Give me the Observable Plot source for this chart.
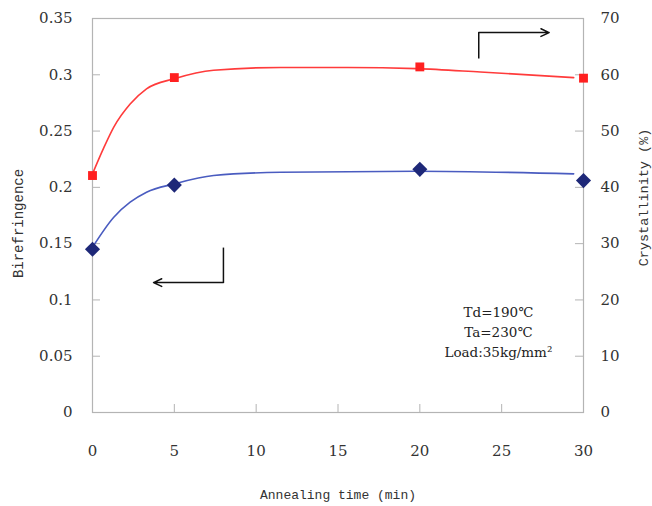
<!DOCTYPE html>
<html>
<head>
<meta charset="utf-8">
<script src="https://cdn.jsdelivr.net/npm/d3@7"></script>
<script src="https://cdn.jsdelivr.net/npm/@observablehq/plot@0.6"></script>
<style>
  html, body { margin: 0; padding: 0; background: #fff; }
</style>
</head>
<body>
<div id="chart"></div>
<script>
// Measured points
const time = [0, 5, 20, 30];
const birefringence = [0.145, 0.202, 0.216, 0.206];
const crystallinity = [42.1, 59.5, 61.4, 59.4];

// Fitted curves
const crystFitTime = [0, 0.7, 1.3, 2.3, 3.3, 5, 7.4, 11.5, 15.6, 19.8, 23.7, 29.4];
const crystFit = [42.4, 47.1, 50.7, 54.8, 57.5, 59.3, 60.8, 61.3, 61.3, 61.1, 60.5, 59.5];
const biFitTime = [0, 1.3, 2.3, 3.3, 5, 7.4, 11.5, 19.8, 29.4];
const biFit = [0.1468, 0.1735, 0.1868, 0.1957, 0.2031, 0.2105, 0.2134, 0.2143, 0.2120];

// Ticks
const xTicks = [0, 5, 10, 15, 20, 25, 30];
const biTicks = [0, 0.05, 0.1, 0.15, 0.2, 0.25, 0.3, 0.35];
const crystTicks = [0, 10, 20, 30, 40, 50, 60, 70];

// Annotations
const noteText = ["Td=190℃", "Ta=230℃", "Load:35kg/mm²"];
const noteX = 24.8;
const noteY = 0.0728;
const rightArrow = {x1: 23.6, x2: 27.9, yLow: 0.3144, y: 0.3375};
const leftArrow = {x1: 8.0, x2: 3.73, yHigh: 0.1465, y: 0.1154};

const k = 0.35 / 70; // crystallinity -> birefringence axis
const pts = time.map((t, i) => ({t, b: birefringence[i], c: crystallinity[i] * k}));
const cFit = crystFitTime.map((t, i) => ({t, v: crystFit[i] * k}));
const bFit = biFitTime.map((t, i) => ({t, v: biFit[i]}));

const gray = "#b4b4b4";
const labelFont = "Liberation Mono";

const chart = Plot.plot({
  width: 652,
  height: 506,
  marginLeft: 92,
  marginRight: 69,
  marginTop: 18,
  marginBottom: 94,
  style: {fontFamily: "DejaVu Serif", fontSize: "15px", color: "#333", background: "#fff"},
  x: {domain: [0, 30]},
  y: {domain: [0, 0.35]},
  marks: [
    Plot.frame({stroke: gray, strokeWidth: 1.2}),
    // inward ticks
    Plot.ruleY(biTicks, {y: d => d, x1: 0, x2: 0.49, stroke: gray}),
    Plot.ruleY(crystTicks, {y: d => d * k, x1: 29.51, x2: 30, stroke: gray}),
    Plot.ruleX(xTicks, {x: d => d, y1: 0, y2: 0.0071, stroke: gray}),
    Plot.axisY(biTicks, {anchor: "left", tickSize: 0, tickPadding: 20, label: null,
      tickFormat: d => String(+d.toFixed(2))}),
    Plot.axisY(crystTicks.map(c => c * k), {anchor: "right", tickSize: 0, tickPadding: 17, label: null,
      tickFormat: d => String(Math.round(d / k))}),
    Plot.axisX(xTicks, {anchor: "bottom", tickSize: 0, tickPadding: 33, label: null}),
    // axis titles
    Plot.text(["Birefringence"], {frameAnchor: "left", textAnchor: "middle", dx: -74, dy: 8, rotate: -90,
      fontFamily: labelFont, fontSize: 14, fill: "#333", letterSpacing: "1.2px"}),
    Plot.text(["Crystallinity (%)"], {frameAnchor: "right", textAnchor: "middle", dx: 60, dy: -18, rotate: -90,
      fontFamily: labelFont, fontSize: 13.5, fill: "#333"}),
    Plot.text(["Annealing time (min)"], {frameAnchor: "bottom", dy: 86, fontFamily: labelFont,
      fontSize: 13, fill: "#333"}),
    // curves
    Plot.line(cFit, {x: "t", y: "v", curve: "monotone-x", stroke: "#ff3b3b", strokeWidth: 1.6}),
    Plot.line(bFit, {x: "t", y: "v", curve: "monotone-x", stroke: "#4a5cc0", strokeWidth: 1.6}),
    // points
    Plot.dot(pts, {x: "t", y: "c", symbol: "square", r: 5, fill: "#ff2020", stroke: "none"}),
    Plot.dot(pts, {x: "t", y: "b", symbol: "diamond2", r: 6.8, fill: "#1e2878", stroke: "none"}),
    // arrows
    Plot.link([rightArrow], {x1: "x1", x2: "x1", y1: "yLow", y2: "y", stroke: "#111", strokeWidth: 1.5}),
    Plot.arrow([rightArrow], {x1: "x1", x2: "x2", y1: "y", y2: "y", stroke: "#111", strokeWidth: 1.5, headLength: 9, headAngle: 50}),
    Plot.link([leftArrow], {x1: "x1", x2: "x1", y1: "yHigh", y2: "y", stroke: "#111", strokeWidth: 1.5}),
    Plot.arrow([leftArrow], {x1: "x1", x2: "x2", y1: "y", y2: "y", stroke: "#111", strokeWidth: 1.5, headLength: 9, headAngle: 50}),
    // annotation
    Plot.text([noteText.join("\n")], {x: noteX, y: noteY, fontSize: 13.5, lineHeight: 1.5, fill: "#222"})
  ]
});
document.getElementById("chart").appendChild(chart);
</script>
</body>
</html>
